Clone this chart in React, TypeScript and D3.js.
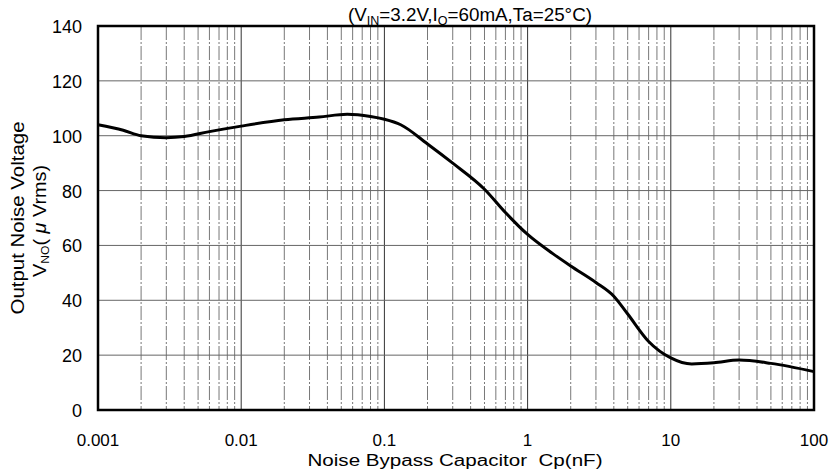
import React from "react";
import * as d3 from "d3";

const capNF = [0.001, 0.0015, 0.002, 0.003, 0.004, 0.006, 0.01, 0.02, 0.035, 0.055, 0.08, 0.1, 0.13, 0.2, 0.3, 0.5, 0.7, 1, 1.5, 2, 3, 4, 5, 7, 10, 14, 20, 30, 50, 100];
const noiseUV = [104, 102, 100, 99.3, 99.7, 101.5, 103.5, 105.8, 106.8, 107.8, 107, 106, 104, 97, 90, 80.5, 72, 64, 57, 52.5, 46.5, 41.5, 35, 25, 19, 16.8, 17.2, 18.2, 17, 14];
const xTicks = [0.001, 0.01, 0.1, 1, 10, 100];
const xTickLabels = ["0.001", "0.01", "0.1", "1", "10", "100"];
const yTicks = [0, 20, 40, 60, 80, 100, 120, 140];

export default function App() {
  const W = 832, H = 472;
  const L = 98, R = 814, T = 26, B = 410;
  const x = d3.scaleLog().domain([0.001, 100]).range([L, R]);
  const y = d3.scaleLinear().domain([0, 140]).range([B, T]);
  const minor: number[] = [];
  for (let e = -3; e < 2; e++) for (let m = 2; m <= 9; m++) minor.push(m * Math.pow(10, e));
  const line = d3.line<number>().x((_, i) => x(capNF[i])).y(d => y(d)).curve(d3.curveMonotoneX);
  const font = "'Liberation Sans', Arial, sans-serif";
  return (
    <svg width={W} height={H} style={{ position: "absolute", left: 0, top: 0, background: "#fff" }} fontFamily={font}>
      {minor.map((v, i) => (
        <line key={"m" + i} x1={x(v)} x2={x(v)} y1={T} y2={B} stroke="#555" strokeWidth={0.8} strokeDasharray="14,2,2,2" />
      ))}
      {xTicks.slice(1, -1).map((v, i) => (
        <line key={"M" + i} x1={x(v)} x2={x(v)} y1={T} y2={B} stroke="#333" strokeWidth={1} />
      ))}
      {yTicks.slice(1, -1).map((v, i) => (
        <line key={"h" + i} x1={L} x2={R} y1={y(v)} y2={y(v)} stroke="#666" strokeWidth={1} />
      ))}
      <path d={line(noiseUV) || ""} fill="none" stroke="#000" strokeWidth={3} />
      <rect x={L} y={T} width={R - L} height={B - T} fill="none" stroke="#000" strokeWidth={2.5} />
      {yTicks.map((v, i) => (
        <text key={"yt" + i} x={L - 16} y={y(v) + 7} textAnchor="end" fontSize={18} fill="#000">{v}</text>
      ))}
      {xTicks.map((v, i) => (
        <text key={"xt" + i} x={x(v)} y={B + 36} textAnchor="middle" fontSize={17} fill="#000">{xTickLabels[i]}</text>
      ))}
      <text x={455} y={466} textAnchor="middle" fontSize={16} fill="#000" xmlSpace="preserve" textLength={295} lengthAdjust="spacingAndGlyphs">Noise Bypass Capacitor  Cp(nF)</text>
      <text x={470} y={21} textAnchor="middle" fontSize={18} fill="#000" textLength={244} lengthAdjust="spacingAndGlyphs">
        (V<tspan fontSize={12} dy={4}>IN</tspan><tspan dy={-4}>=3.2V,I</tspan><tspan fontSize={12} dy={4}>O</tspan><tspan dy={-4}>=60mA,Ta=25°C)</tspan>
      </text>
      <g transform="translate(0,218) rotate(-90)">
        <text x={0} y={24} textAnchor="middle" fontSize={18} fill="#000" textLength={193} lengthAdjust="spacingAndGlyphs">Output Noise Voltage</text>
        <text x={-3} y={46} textAnchor="middle" fontSize={18} fill="#000" textLength={112} lengthAdjust="spacingAndGlyphs">
          V<tspan fontSize={11} dy={3}>NO</tspan><tspan dy={-3}>( </tspan><tspan fontStyle="italic">μ</tspan> Vrms)
        </text>
      </g>
    </svg>
  );
}
